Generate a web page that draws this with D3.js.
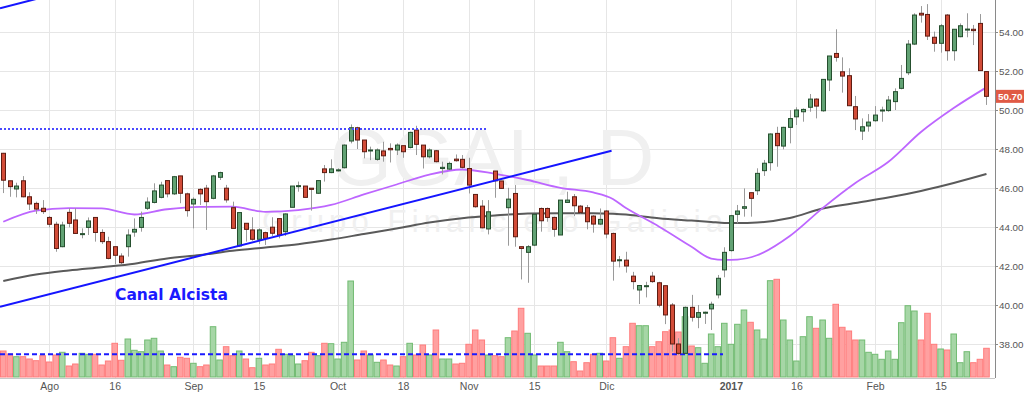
<!DOCTYPE html>
<html>
<head>
<meta charset="utf-8">
<script src="https://cdn.jsdelivr.net/npm/d3@7"></script>
<style>
  html, body { margin: 0; padding: 0; background: #fff; }
  svg { display: block; }
</style>
</head>
<body>
<div id="graph"></div>
<script>
// ---- data (GGAL, daily) ----
var tickIdx = [7, 17, 29, 39, 51, 61, 71, 81, 92, 111, 121, 133, 143];
var tickLabels = ["Ago", "16", "Sep", "15", "Oct", "18", "Nov", "15", "Dic", "2017", "16", "Feb", "15"];
var priceTicks = [38, 40, 42, 44, 46, 48, 50, 52, 54];

var opens = [47.78,46.37,45.95,46.37,45.55,45.21,44.96,44.49,44.14,42.99,44.75,44.36,43.65,43.98,44.49,43.72,43.25,42.99,42.51,42.99,
  43.74,43.98,44.96,45.26,45.52,46.38,45.70,46.62,45.70,45.18,45.93,45.99,45.47,46.55,45.99,44.99,43.03,44.19,43.85,43.37,
  43.71,43.99,44.43,43.76,45.01,46.07,46.10,45.99,45.73,46.98,46.79,46.93,47.04,48.41,49.09,48.46,47.90,47.47,47.90,48.03,
  47.95,48.17,48.08,48.97,48.20,47.60,47.91,47.00,46.97,47.48,47.47,47.00,45.67,45.07,43.90,46.87,46.36,44.99,45.72,42.99,
  42.70,43.07,44.95,44.95,44.49,43.59,45.26,45.55,45.07,44.99,44.56,44.15,44.82,43.67,42.30,42.30,41.48,40.77,40.97,41.48,
  41.14,40.99,40.00,38.00,37.52,39.88,39.37,39.62,39.80,40.52,41.80,42.79,44.65,44.96,45.76,45.86,46.89,47.30,48.80,48.15,
  49.11,49.65,49.91,50.14,50.56,49.96,51.54,52.90,51.96,51.76,50.17,48.92,49.18,49.45,49.99,49.97,50.43,51.11,51.91,53.38,
  54.96,54.90,53.73,53.42,54.87,53.04,53.76,54.13,54.14,54.44,51.97];
var highs = [47.80,46.37,46.27,46.61,45.78,45.30,45.38,44.56,44.27,44.27,44.96,44.96,43.93,44.49,44.49,43.88,43.50,42.99,42.65,43.88,
  44.44,44.79,45.52,46.24,46.32,46.40,46.62,46.62,45.76,45.52,45.99,46.16,46.67,46.84,46.16,45.30,44.74,44.19,44.50,43.93,
  43.76,44.50,44.43,44.70,46.10,46.33,46.10,45.99,46.41,47.18,47.47,47.01,48.24,49.26,49.14,48.46,48.12,48.03,48.37,48.29,
  48.29,48.17,48.89,49.19,48.20,48.03,47.95,47.35,47.35,47.72,47.69,47.55,45.69,45.38,45.38,46.87,46.36,46.01,46.15,42.99,
  43.07,44.65,45.00,45.00,44.53,45.38,45.81,45.69,45.13,45.13,44.61,44.95,44.87,43.71,42.51,42.73,41.70,41.02,41.19,41.70,
  41.19,40.99,40.10,38.30,39.92,40.52,40.00,39.66,40.17,41.54,42.96,44.62,45.13,45.98,45.76,47.01,47.44,48.80,49.14,49.14,
  50.00,50.14,50.08,50.82,50.60,51.57,52.77,54.14,52.70,52.14,50.72,49.57,49.79,50.20,50.17,50.72,51.11,52.31,53.59,54.96,
  55.33,55.43,54.02,54.41,54.92,54.14,54.44,54.96,54.36,54.92,51.97];
var lows = [45.74,45.55,45.52,45.52,44.87,44.67,44.67,43.98,42.73,42.96,43.98,43.64,43.42,43.59,43.25,43.13,42.34,42.10,42.10,42.48,
  43.50,43.76,44.87,45.21,45.47,45.52,45.64,45.22,44.53,43.93,45.13,43.85,45.42,46.41,45.25,43.93,42.99,43.25,43.30,43.13,
  43.08,43.54,43.42,43.54,45.01,45.81,45.52,44.84,45.70,46.33,46.76,46.84,47.00,48.29,48.00,47.52,47.43,47.40,47.35,47.31,
  47.69,47.55,48.03,47.69,47.00,47.52,47.31,46.70,46.92,47.35,47.00,45.72,44.99,43.93,43.62,45.50,45.95,43.04,42.99,41.31,
  41.14,43.02,43.76,44.27,43.50,43.59,45.24,44.56,44.70,43.88,43.71,44.10,43.42,41.25,41.93,41.66,40.80,40.05,40.39,41.14,
  39.88,39.02,37.61,37.44,37.52,39.15,38.81,39.03,38.72,40.34,41.42,42.74,44.19,44.53,44.53,45.64,46.62,46.89,47.09,47.98,
  48.29,49.23,49.40,49.91,49.57,49.91,50.97,52.48,50.89,50.20,48.97,48.46,48.89,49.40,49.40,49.91,50.00,51.06,51.79,53.33,
  54.48,53.59,52.99,52.94,52.53,52.53,53.73,53.73,53.33,52.02,50.26];
var closes = [46.40,46.07,46.10,45.55,45.18,44.92,44.79,44.14,42.90,44.10,44.19,43.67,43.66,44.31,43.72,43.25,42.39,42.55,42.17,43.59,
  43.88,44.49,45.28,45.85,46.15,45.70,46.58,45.73,44.84,45.42,45.70,45.30,46.62,46.79,45.39,43.93,44.74,43.88,43.37,43.85,
  43.42,43.68,43.59,44.67,46.10,46.12,45.52,45.93,46.38,46.79,46.98,46.93,48.20,49.09,48.46,47.86,47.95,47.95,47.65,47.96,
  48.20,47.86,48.85,48.24,47.60,47.95,47.35,47.06,47.26,47.40,47.06,46.15,45.04,43.96,44.78,46.37,45.98,45.43,43.50,42.90,
  42.99,44.65,44.32,44.49,43.88,45.38,45.38,45.09,44.75,44.27,44.15,44.39,43.64,42.25,42.32,42.00,41.20,41.00,40.99,41.20,
  39.99,39.49,38.00,37.52,39.88,39.37,39.61,39.63,40.04,41.37,42.70,44.58,44.82,45.04,45.47,46.75,47.27,48.77,48.17,49.11,
  49.56,50.00,50.03,50.56,50.20,51.57,52.77,52.70,51.74,50.22,49.54,49.14,49.38,49.74,50.00,50.51,50.94,51.62,53.38,54.87,
  54.87,53.79,53.42,54.32,53.04,54.14,54.32,54.15,54.07,52.02,50.70];
var volumes = [2.6,2.3,2.03,2.03,1.8,1.63,2.13,1.5,2.2,2.47,1.1,1.3,2.37,2.27,2.27,1.2,1.6,3.37,1.67,3.8,
  2.67,2.53,3.7,3.87,2.6,1.2,1.03,1.97,1.87,1.37,1.03,1.2,5.03,1.7,3.03,2.13,2.6,1.8,0.93,1.87,
  1.2,1.3,2.77,2.27,2.13,1.3,1.63,2.47,2.13,3.37,3.33,1.8,3.47,9.6,1.7,2.6,2.2,1.47,1.7,1.2,
  1.1,2.03,3.37,2.2,3.2,2.2,4.7,1.8,1.8,1.3,1.37,3.27,4.7,3.7,2.2,2.13,2.03,3.93,4.6,6.87,
  4.37,2.2,1.1,1.1,1.1,3.47,2.53,1.53,0.6,1.43,2.27,2.37,1.6,3.93,1.87,3.03,5.37,5.13,5.13,3.03,
  3.53,4.53,4.7,4.5,6.03,3.1,2.93,1.37,4.3,3.03,5.37,3.27,5.27,6.7,5.47,4.7,3.8,9.63,9.77,5.7,
  3.7,1.6,4.03,6.03,4.87,5.7,3.87,7.27,4.97,4.6,3.7,3.7,2.47,2.27,1.77,2.6,1.77,5.43,7.13,6.6,
  3.7,6.37,3.27,2.8,2.7,4.3,1.43,2.53,1.43,1.77,2.87];

// moving averages, read at every 5th bar
var maIdx = [0,5,10,15,20,25,30,35,40,45,50,55,60,65,70,75,80,85,90,93,95,97,100,105,108,110,112,115,120,125,130,135,140,145,150];
var maFast = [44.27,44.84,44.97,44.95,44.64,44.91,45.03,45.04,44.78,44.87,45.13,45.67,46.18,46.69,46.95,46.73,46.41,46.01,45.77,45.44,44.97,44.59,44.03,42.99,42.38,42.31,42.33,42.55,43.54,44.97,46.26,47.33,48.87,50.10,51.16];
var maSlow = [41.23,41.56,41.77,41.94,42.12,42.39,42.56,42.78,42.95,43.12,43.36,43.64,43.92,44.23,44.45,44.59,44.69,44.71,44.71,44.68,44.64,44.57,44.45,44.33,44.26,44.21,44.20,44.23,44.46,44.95,45.23,45.51,45.85,46.26,46.72];

// drawings
var channelIdx = [-0.5, 92.8];
var channelLow = [39.91, 47.91];
var channelHigh = [55.22, 63.22];
var resistIdx = [-0.5, 73.8];
var resistPrice = 49.03;
var volAvgIdx = [-0.5, 109.8];
var volAvg = 2.27;
var lastPrice = 50.70;


function drawChart() {
    var W = 1024, H = 393;
    var plotRight = 995, plotBottom = 378;

    var svg = d3.select("#graph").append("svg")
        .attr("width", W)
        .attr("height", H)
        .style("font-family", "'Liberation Sans', Arial, sans-serif");

    svg.append("defs").append("clipPath").attr("id", "plotClip")
        .append("rect").attr("x", 0).attr("y", 0).attr("width", plotRight).attr("height", plotBottom);

    var x = d3.scaleLinear().domain([-0.5, 151.3]).range([0, plotRight]);
    var y = d3.scaleLinear().domain([54, 38]).range([32, 344]);
    var yv = d3.scaleLinear().domain([0, 10]).range([377, 277]);
    var step = x(1) - x(0);

    var bars = d3.range(closes.length).map(function(i) {
        return {i: i, o: opens[i], h: highs[i], l: lows[i], c: closes[i], v: volumes[i], up: closes[i] >= opens[i]};
    });

    var plot = svg.append("g").attr("clip-path", "url(#plotClip)");

    // grid
    plot.append("g").selectAll("line").data(priceTicks).enter().append("line")
        .attr("x1", 0).attr("x2", plotRight)
        .attr("y1", d => Math.round(y(d)) + 0.5).attr("y2", d => Math.round(y(d)) + 0.5)
        .attr("stroke", "#e6e6e6");
    plot.append("g").selectAll("line").data(tickIdx).enter().append("line")
        .attr("x1", d => Math.round(x(d)) + 0.5).attr("x2", d => Math.round(x(d)) + 0.5)
        .attr("y1", 0).attr("y2", plotBottom)
        .attr("stroke", "#e6e6e6");

    // watermark
    plot.append("text").attr("x", 492).attr("y", 185)
        .attr("text-anchor", "middle").attr("font-size", 80)
        .attr("fill", "#f0f0f0").text("GGAL, D");
    plot.append("text").attr("x", 262).attr("y", 232)
        .attr("font-size", 31).attr("textLength", 461).attr("lengthAdjust", "spacing")
        .attr("fill", "#f0f0f0").text("Grupo Financiero Galicia");

    // volume
    plot.append("g").selectAll("rect").data(bars).enter().append("rect")
        .attr("x", d => x(d.i) - step / 2 + 0.5)
        .attr("width", step - 1)
        .attr("y", d => yv(d.v))
        .attr("height", d => yv(0) - yv(d.v))
        .attr("fill", d => d.up ? "#a6d6a6" : "#ffa0a0")
        .attr("stroke", d => d.up ? "#72bb72" : "#ff7c7c")
        .attr("stroke-width", 1);

    plot.append("line")
        .attr("x1", x(volAvgIdx[0])).attr("x2", x(volAvgIdx[1]))
        .attr("y1", yv(volAvg)).attr("y2", yv(volAvg))
        .attr("stroke", "#1a1aff").attr("stroke-width", 2)
        .attr("stroke-dasharray", "5,3");

    // moving averages
    var maLine = function(vals) {
        return d3.line()
            .x((d, k) => x(maIdx[k]))
            .y(d => y(d))
            .curve(d3.curveMonotoneX)(vals);
    };
    plot.append("path").attr("d", maLine(maSlow))
        .attr("fill", "none").attr("stroke", "#5a5a5a").attr("stroke-width", 2);
    plot.append("path").attr("d", maLine(maFast))
        .attr("fill", "none").attr("stroke", "#bd66ff").attr("stroke-width", 1.8);

    // candles
    var cg = plot.append("g");
    cg.selectAll("line").data(bars).enter().append("line")
        .attr("x1", d => Math.round(x(d.i)) + 0.5).attr("x2", d => Math.round(x(d.i)) + 0.5)
        .attr("y1", d => y(d.h)).attr("y2", d => y(d.l))
        .attr("stroke", "#9a9a9a").attr("stroke-width", 1);
    cg.selectAll("rect").data(bars).enter().append("rect")
        .attr("x", d => Math.round(x(d.i)) - 1.5)
        .attr("width", 4)
        .attr("y", d => y(Math.max(d.o, d.c)))
        .attr("height", d => Math.max(1, Math.abs(y(d.o) - y(d.c))))
        .attr("fill", d => d.up ? "#62a274" : "#d24c38")
        .attr("stroke", d => d.up ? "#254f2e" : "#5e1c12")
        .attr("stroke-width", 1);

    // drawings
    plot.append("line")
        .attr("x1", x(resistIdx[0])).attr("x2", x(resistIdx[1]))
        .attr("y1", y(resistPrice)).attr("y2", y(resistPrice))
        .attr("stroke", "#4a4aff").attr("stroke-width", 2)
        .attr("stroke-dasharray", "2,2");
    [channelLow, channelHigh].forEach(function(ln) {
        plot.append("line")
            .attr("x1", x(channelIdx[0])).attr("y1", y(ln[0]))
            .attr("x2", x(channelIdx[1])).attr("y2", y(ln[1]))
            .attr("stroke", "#1515ff").attr("stroke-width", 2);
    });

    plot.append("text").attr("x", 115).attr("y", 300)
        .attr("font-family", "'DejaVu Sans', Verdana, sans-serif")
        .attr("font-weight", "bold").attr("font-size", 15.5)
        .attr("fill", "#1a1aff").text("Canal Alcista");

    // right price axis
    var ra = svg.append("g").attr("transform", "translate(" + plotRight + ",0)")
        .call(d3.axisRight(y).tickValues(priceTicks).tickFormat(d3.format(".2f")).tickSize(3).tickPadding(1));
    ra.select(".domain").remove();
    ra.selectAll("line").attr("stroke", "#8a8a8a");
    ra.selectAll("text").attr("font-size", 9.8).attr("fill", "#555")
        .attr("font-family", "'Liberation Sans', Arial, sans-serif");
    svg.append("line").attr("x1", plotRight + 0.5).attr("x2", plotRight + 0.5)
        .attr("y1", 0).attr("y2", plotBottom).attr("stroke", "#8a8a8a");

    // bottom time axis
    svg.append("line").attr("x1", 0).attr("x2", plotRight)
        .attr("y1", plotBottom + 0.5).attr("y2", plotBottom + 0.5).attr("stroke", "#c8c8c8");
    var ba = svg.append("g").attr("transform", "translate(0," + plotBottom + ")")
        .call(d3.axisBottom(x).tickValues(tickIdx).tickFormat((d, k) => tickLabels[k]).tickSize(0).tickPadding(5));
    ba.select(".domain").remove();
    ba.selectAll("text").attr("font-size", 10.5).attr("fill", "#555")
        .attr("font-family", "'Liberation Sans', Arial, sans-serif")
        .attr("font-weight", d => d === 111 ? "bold" : "normal");

    // last price marker
    var ly = y(lastPrice);
    var lab = svg.append("g").attr("transform", "translate(" + (plotRight + 1) + "," + ly + ")");
    lab.append("rect").attr("x", 0).attr("y", -6.5).attr("width", W - plotRight - 1).attr("height", 13)
        .attr("fill", "#e05a45");
    lab.append("text").attr("x", 2).attr("y", 3.5)
        .attr("font-size", 9.8).attr("font-weight", "bold").attr("fill", "#fff")
        .text(d3.format(".2f")(lastPrice));
}

drawChart();
</script>
</body>
</html>
